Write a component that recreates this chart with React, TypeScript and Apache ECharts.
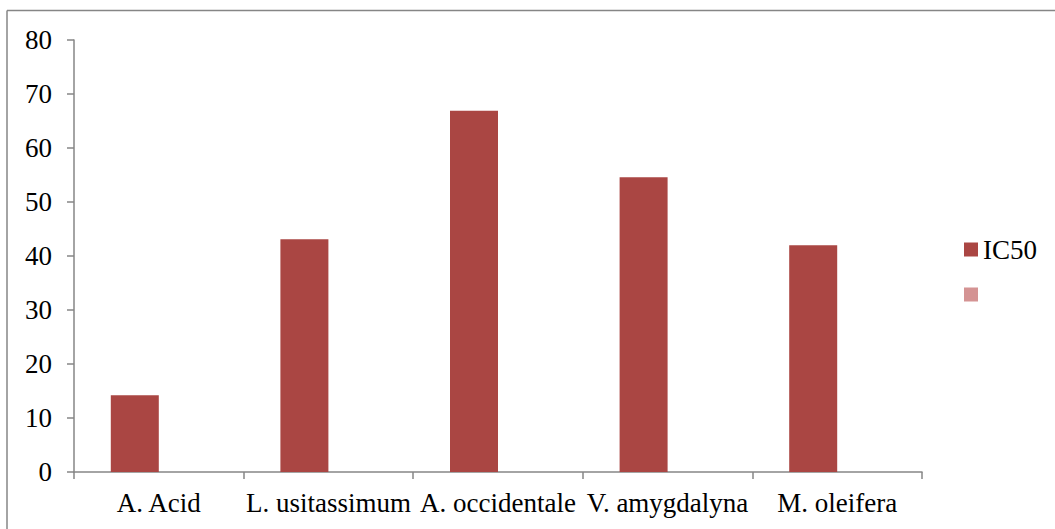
import React, { useEffect, useRef } from "react";
import * as echarts from "echarts";

const categories = ["A. Acid", "L. usitassimum", "A. occidentale", "V. amygdalyna", "M. oleifera"];
const ic50Values = [14.2, 43.1, 66.9, 54.6, 42.0];
const emptySeriesValues = ["-", "-", "-", "-", "-"];
const seriesNames = ["IC50", " "];
const yTicks = { min: 0, max: 80, interval: 10 };

const FONT = "Times New Roman, Liberation Serif, DejaVu Serif, serif";
const FS = 27;
const AXIS = "#868686";

export default function App() {
  const ref = useRef<HTMLDivElement>(null);
  useEffect(() => {
    if (!ref.current) return;
    const chart = echarts.init(ref.current, undefined, { renderer: "svg" });
    chart.setOption({
      animation: false,
      backgroundColor: "#ffffff",
      textStyle: { fontFamily: FONT },
      grid: { left: 74, right: 133, top: 40, bottom: 57, containLabel: false },
      legend: {
        orient: "vertical",
        left: 964,
        top: 236,
        padding: 0,
        itemWidth: 14,
        itemHeight: 14,
        itemGap: 18,
        icon: "rect",
        data: seriesNames,
        textStyle: { fontFamily: FONT, fontSize: FS, color: "#000" },
      },
      xAxis: {
        type: "category",
        data: categories,
        axisLine: { lineStyle: { color: AXIS, width: 1.5 } },
        axisTick: { show: true, length: 7, lineStyle: { color: AXIS, width: 1.5 } },
        axisLabel: { fontFamily: FONT, fontSize: FS, color: "#000", margin: 17, interval: 0 },
      },
      yAxis: {
        type: "value",
        min: yTicks.min,
        max: yTicks.max,
        interval: yTicks.interval,
        splitLine: { show: false },
        axisLine: { show: true, lineStyle: { color: AXIS, width: 1.5 } },
        axisTick: { show: true, length: 7, lineStyle: { color: AXIS, width: 1.5 } },
        axisLabel: { fontFamily: FONT, fontSize: FS, color: "#000", margin: 22 },
      },
      series: [
        {
          name: seriesNames[0],
          type: "bar",
          data: ic50Values,
          barWidth: 48,
          barGap: "0%",
          itemStyle: { color: "#AA4643" },
        },
        {
          name: seriesNames[1],
          type: "bar",
          data: emptySeriesValues,
          barWidth: 48,
          barGap: "0%",
          itemStyle: { color: "#D49393" },
        },
      ],
      graphic: [
        { type: "line", shape: { x1: 7, y1: 10.5, x2: 1055, y2: 10.5 }, style: { stroke: AXIS, lineWidth: 1.5 } },
        { type: "line", shape: { x1: 7, y1: 10.5, x2: 7, y2: 529 }, style: { stroke: AXIS, lineWidth: 1.5 } },
      ],
    });
    return () => chart.dispose();
  }, []);
  return (
    <div
      ref={ref}
      style={{ position: "absolute", left: 0, top: 0, width: 1055, height: 529 }}
    />
  );
}
